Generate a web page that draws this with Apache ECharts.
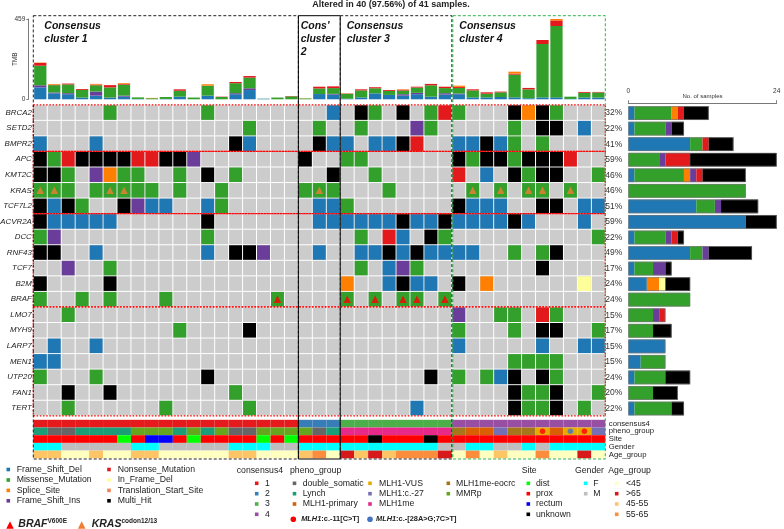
<!DOCTYPE html>
<html><head><meta charset="utf-8">
<script src="https://cdn.jsdelivr.net/npm/echarts@6/dist/echarts.min.js"></script>
<style>html,body{margin:0;padding:0;background:#fff}#c{width:784px;height:529px}</style>
</head><body><div id="c"></div>
<script>
// ---------------- DATA ----------------
const nSamples = 41;
const samples = Array.from({length: nSamples}, (_, i) => 'S' + (i + 1));
const genes = ['BRCA2','SETD2','BMPR2','APC','KMT2C','KRAS','TCF7L2','ACVR2A','DCC','RNF43','TCF7','B2M','BRAF','LMO7','MYH9','LARP7','MEN1','UTP20','FAN1','TERT'];
// sampleIndex + code (B=Frame_Shift_Del G=Missense O=Splice P=Frame_Shift_Ins R=Nonsense Y=In_Frame_Del T=Translation_Start K=Multi_Hit)
const mutRows = [
  '5G 12G 21B 23K 24G 26K 28G 29R 30G 34K 35O 36K 37G',
  '15G 20G 23G 27P 28G 34G 36K 37K 39B',
  '0B 4B 14K 15B 20K 21B 22B 24B 25B 26K 27R 30B 31B 32K 33B 34G 36G',
  '0K 1G 2R 3K 4K 5K 6K 7R 8R 9K 10K 11P 19K 22G 23G 30K 31G 32K 33K 34G 35K 36K 37K 38R',
  '0K 1K 2G 4P 5O 6G 7G 10G 12K 14G 21K 24G 30R 32B 34K 35G 36K 37K 40G',
  '0G 1G 2G 4G 5G 6G 7G 8G 10G 13G 19G 20G 21G 25G 31G 33G 35G 36G 38G',
  '0K 1B 2K 3G 6K 7P 8B 9B 12B 13G 20B 21B 22G 30K 31B 32B 33B 36K 37K 39B 40B',
  '0K 1B 2B 3B 4B 5B 12K 20B 21B 22B 23B 24B 25B 26K 27B 28B 29K 30B 31B 32B 33B 34K 35B 39B',
  '0G 1P 12G 23G 25R 26B 28K 29G 40G',
  '0K 1K 4B 12B 14K 15K 16P 20B 23B 24B 25K 26B 27K 28B 29B 30B 31B 34G 36G 37K',
  '2P 5G 23G 25B 26P 27G 36K',
  '0K 5K 22O 25B 26K 27B 28B 30K 32O 39Y',
  '0G 3G 5G 9G 17G 22G 24G 26G 27G 29G',
  '2G 30P 33G 34G 36R 37G',
  '10G 15K 30G 34G 36K 37K 40G',
  '1B 4B 30B 36B 39B 40B',
  '0B 1B 34G 35G 36G 37G',
  '0G 4G 12K 28K 30G 32G 33B 34K 36K 37G',
  '2K 5K 14G 34K 35G 36G 37K 40G',
  '2G 9G 15G 27B 34K 35G 36G 37K 39G'
];
const mutTypes  = ['Frame_Shift_Del','Missense_Mutation','Splice_Site','Frame_Shift_Ins','Nonsense_Mutation','In_Frame_Del','Translation_Start_Site','Multi_Hit'];
const mutCodes  = ['B','G','O','P','R','Y','T','K'];
const mutColors = ['#1f78b4','#33a02c','#ff7f00','#6a3d9a','#e31a1c','#ffff99','#f08356','#000000'];
const brafV600E = [17,22,24,26,27,29];
const krasCodon = [0,1,5,6,20,31,33,35,36,38];

// TMB per sample, by variant class
const tmbFSD = [68,34,29,10,21,8,15,2,0,2,15,0,21,0,29,53,3,0,0, 0,30,27, 3,11,34,25,21,29,15,27, 29,11,11,13,11,6,11,11,2,10,10];
const tmbFSI = [12,5,6,0,23,2,6,0,0,0,0,0,0,0,6,10,0,0,0, 0,0,4, 0,0,0,0,8,8,0,8, 4,0,0,0,0,0,0,0,0,0,0];
const tmbMis = [112,42,50,44,36,58,63,9,6,11,34,10,57,13,57,61,1,10,17, 5,32,33, 28,40,29,23,21,30,65,29, 32,40,21,27,130,51,305,408,13,27,29];
const tmbNon = [16,2,5,5,4,13,5,0,0,0,8,0,0,2,7,9,0,0,2, 0,10,10, 2,6,6,5,5,5,8,8, 6,6,8,4,6,8,23,32,0,5,3];
const tmbSpl = [2,4,0,0,4,0,4,0,2,0,0,0,8,0,0,0,0,0,0, 1,0,0, 1,0,0,0,2,0,0,0, 7,0,0,0,11,0,0,8,0,0,0];
const tmbMax = 459;

// annotations
const trackNames = ['consensus4','pheno_group','Site','Gender','Age_group'];
const consLevels = ['1','2','3','4'];
const consColors = ['#e41a1c','#377eb8','#4daf4a','#984ea3'];
const consensus = [0,0,0,0,0,0,0,0,0,0,0,0,0,0,0,0,0,0,0, 1,1,1, 2,2,2,2,2,2,2,2, 3,3,3,3,3,3,3,3,3,3,3];
const phenoLevels = ['double_somatic','Lynch','MLH1-primary','MLH1-VUS','MLH1:c.-27','MLH1me','MLH1me-eocrc','MMRp'];
const phenoColors = ['#666666','#1b9e77','#d95f02','#e6ab02','#7570b3','#e7298a','#a6761d','#66a61e'];
const pheno = [1,0,0,1,1,1,1,7,7,7,1,7,1,7,0,0,7,7,7, 7,0,1, 5,5,5,5,5,5,5,5, 6,2,2,4,6,6,3,2,3,3,4];
const mlh1C11 = [36,39];        // MLH1:c.-11[C>T]
const mlh1C28 = [38];           // MLH1:c.-[28A>G;7C>T]
const siteLevels = ['dist','prox','rectum','unknown'];
const siteColors = ['#00ff00','#ff0000','#0000ff','#000000'];
const site = [1,1,1,1,1,1,0,1,2,2,1,0,1,1,1,1,0,1,0, 1,1,1, 1,1,3,1,1,1,3,1, 1,1,1,1,1,1,1,1,1,1,1];
const genderLevels = ['F','M'];
const genderColors = ['#00ffff','#bebebe'];
const gender = [0,0,1,1,1,1,1,0,0,1,1,1,1,1,0,0,0,1,1, 0,0,0, 0,0,0,0,0,0,0,1, 1,0,0,1,1,0,1,0,0,0,0];
const ageLevels = ['<45','>65','45-55','55-65'];
const ageColors = ['#ffffbf','#d7191c','#fdc566','#fc8d3c'];
const age = [2,2,0,0,2,0,0,2,2,0,0,0,0,0,2,2,0,0,0, 2,3,0, 1,2,1,2,3,3,3,1, 0,3,0,2,0,0,3,0,0,1,0];
const clusterSizes = [19,3,8,11];
const clusterLabels = ['Consensus\ncluster 1', "Cons'\ncluster\n2", 'Consensus\ncluster 3', 'Consensus\ncluster 4'];
const geneGroups = [3,4,6,7]; // rows per red box

// ---------------- DERIVED ----------------
const mutData = [];
mutRows.forEach((row, g) => row.split(' ').forEach(tok => {
  const s = parseInt(tok, 10); const k = mutCodes.indexOf(tok.replace(/\d+/, ''));
  mutData.push({value: [s, g, k], itemStyle: {color: mutColors[k]}});
}));
const cellData = [];
for (let g = 0; g < genes.length; g++) for (let s = 0; s < nSamples; s++) cellData.push([s, g]);
const geneCounts = genes.map((_, g) => { const c = new Array(mutCodes.length).fill(0); mutData.forEach(d => { if (d.value[1] === g) c[d.value[2]]++; }); return c; });
const totals = geneCounts.map(c => c.reduce((a, b) => a + b, 0));
const pct = totals.map(t => Math.round(t / nSamples * 100));
const alteredSet = new Set(mutData.map(d => d.value[0]));
const nAltered = alteredSet.size;

const annoData = [];
const tracks = [[consensus, consColors], [pheno, phenoColors], [site, siteColors], [gender, genderColors], [age, ageColors]];
tracks.forEach(([arr, cols], t) => arr.forEach((v, s) => annoData.push({value: [s, t], itemStyle: {color: cols[v]}})));

// ---------------- LAYOUT ----------------
const FF = '"Liberation Sans", Arial, Helvetica, sans-serif';
const X0 = 33.3, GW = 572, CW = GW / nSamples;
const GT = 104.8, GH = 311, RH = GH / genes.length;
const AT = 419.8, AH = 38.5;

function rectItem(inset) {
  return function (params, api) {
    const p = api.coord([api.value(0), api.value(1)]);
    const sz = api.size([1, 1]);
    return {type: 'rect', shape: {x: p[0] - sz[0] / 2 + inset, y: p[1] - sz[1] / 2 + inset, width: sz[0] - 2 * inset, height: sz[1] - 2 * inset}, style: {fill: api.visual('color')}};
  };
}

const series = [];
[[tmbFSD, 0], [tmbFSI, 3], [tmbMis, 1], [tmbNon, 4], [tmbSpl, 2]].forEach(([arr, k]) => {
  series.push({type: 'bar', name: mutTypes[k], xAxisIndex: 0, yAxisIndex: 0, stack: 'tmb', data: arr, barCategoryGap: '12%', itemStyle: {color: mutColors[k]}});
});
series.push({type: 'custom', xAxisIndex: 1, yAxisIndex: 1, data: cellData, renderItem: rectItem(0.5), itemStyle: {color: '#cccccc'}, silent: true});
series.push({type: 'custom', xAxisIndex: 1, yAxisIndex: 1, data: mutData, renderItem: rectItem(0.5), silent: true});
series.push({type: 'scatter', xAxisIndex: 1, yAxisIndex: 1, symbol: 'triangle', symbolSize: 7.5, itemStyle: {color: '#ff0000'}, data: brafV600E.map(s => [s, genes.indexOf('BRAF')]), z: 5});
series.push({type: 'scatter', xAxisIndex: 1, yAxisIndex: 1, symbol: 'triangle', symbolSize: 7.5, itemStyle: {color: '#ee7d31'}, data: krasCodon.map(s => [s, genes.indexOf('KRAS')]), z: 5});
series.push({type: 'custom', xAxisIndex: 2, yAxisIndex: 2, data: annoData, renderItem: rectItem(0), silent: true});
series.push({type: 'scatter', xAxisIndex: 2, yAxisIndex: 2, symbol: 'circle', symbolSize: 5.5, itemStyle: {color: '#ff0000'}, data: mlh1C11.map(s => [s, 1]), z: 5});
series.push({type: 'scatter', xAxisIndex: 2, yAxisIndex: 2, symbol: 'circle', symbolSize: 5.5, itemStyle: {color: '#4472c4'}, data: mlh1C28.map(s => [s, 1]), z: 5});
mutCodes.forEach((c, k) => {
  series.push({type: 'bar', xAxisIndex: 3, yAxisIndex: 3, stack: 'cnt', data: geneCounts.map(r => r[k]), barCategoryGap: '12%', itemStyle: {color: mutColors[k]}});
});
series.push({type: 'bar', xAxisIndex: 3, yAxisIndex: 3, data: totals, barGap: '-100%', barCategoryGap: '12%', itemStyle: {color: 'rgba(0,0,0,0)', borderColor: '#777', borderWidth: 0.7}, z: 3});

// ---------------- GRAPHICS ----------------
const G = [];
function txt(x, y, text, o) { return {type: 'text', x: x, y: y, z: 100, style: Object.assign({text: text, fontSize: 8.7, fontFamily: FF, fill: '#222', align: 'left', verticalAlign: 'middle'}, o || {})}; }
function sq(x, y, color, s) { s = s || 3.6; return {type: 'rect', z: 100, shape: {x: x - s / 2, y: y - s / 2, width: s, height: s}, style: {fill: color}}; }
function tri(x, y, color, s) { return {type: 'polygon', z: 100, shape: {points: [[x, y - s / 2], [x + s / 2, y + s / 2], [x - s / 2, y + s / 2]]}, style: {fill: color}}; }

// title
G.push(txt(391, 5, 'Altered in ' + nAltered + ' (' + (nAltered / nSamples * 100).toFixed(2) + '%) of ' + nSamples + ' samples.', {fontWeight: 'bold', fontSize: 9, align: 'center'}));

// red dotted gene-group boxes
let r0 = 0;
geneGroups.forEach(n => {
  G.push({type: 'rect', z: 90, shape: {x: X0, y: GT + r0 * RH, width: GW, height: n * RH}, style: {fill: 'none', stroke: '#ff0000', lineWidth: 1.3, lineDash: [1.6, 1.6]}});
  r0 += n;
});
// cluster boxes and labels
let c0 = 0;
const boxStroke = ['#222', '#000', '#222', '#2db34a'];
const labelX = [44.3, 300.7, 346.7, 459.3];
clusterSizes.forEach((n, i) => {
  const x = X0 + c0 * CW, w = n * CW;
  G.push({type: 'rect', z: 91, shape: {x: x + (i === 3 ? 1 : 0), y: 15.7, width: w - (i === 3 ? 1 : 0), height: 459 - 15.7}, style: {fill: 'none', stroke: boxStroke[i], lineWidth: 1, lineDash: i === 1 ? null : [3, 2]}});
  G.push({type: 'text', z: 100, x: labelX[i], y: 19.5, style: {text: clusterLabels[i], fontSize: 10.5, fontWeight: 'bold', fontStyle: 'italic', fontFamily: FF, fill: '#111', lineHeight: 13, verticalAlign: 'top', align: 'left'}});
  c0 += n;
});

// mutation legend
const legRows = [469.5, 480, 490.4, 500.8];
mutTypes.forEach((m, k) => {
  const col = k < 4 ? 0 : 1, row = k % 4;
  const mx = col ? 109 : 8.3, tx = col ? 117.7 : 16.7;
  G.push(sq(mx, legRows[row], mutColors[k]));
  G.push(txt(tx, legRows[row], m));
});
// hotspot legend
G.push(tri(10, 525, '#ff0000', 7.5));
G.push(txt(18.3, 524, '{a|BRAF}{b|V600E}', {rich: {a: {fontSize: 10.5, fontWeight: 'bold', fontStyle: 'italic', fontFamily: FF, lineHeight: 13}, b: {fontSize: 6.5, fontWeight: 'bold', fontFamily: FF, verticalAlign: 'top'}}}));
G.push(tri(81.7, 525, '#ee7d31', 7.5));
G.push(txt(91.7, 524, '{a|KRAS}{b|codon12/13}', {rich: {a: {fontSize: 10.5, fontWeight: 'bold', fontStyle: 'italic', fontFamily: FF, lineHeight: 13}, b: {fontSize: 6.5, fontWeight: 'bold', fontFamily: FF, verticalAlign: 'top'}}}));

// annotation legends
const titleY = 470.7, itemY = [483.3, 493.7, 504, 514.3];
G.push(txt(236.7, titleY, 'consensus4'));
consLevels.forEach((l, i) => { G.push(sq(256.7, itemY[i], consColors[i])); G.push(txt(265, itemY[i], l)); });
G.push(txt(290, titleY, 'pheno_group'));
const phCols = [[294.5, 302.7], [370, 379], [448.3, 456]];
phenoLevels.forEach((l, i) => {
  const c = Math.floor(i / 3), r = i % 3;
  G.push(sq(phCols[c][0], itemY[r], phenoColors[i])); G.push(txt(phCols[c][1], itemY[r], l));
});
G.push({type: 'circle', z: 100, shape: {cx: 293.3, cy: 519.3, r: 2.8}, style: {fill: '#ff0000'}});
G.push(txt(301.2, 519.3, '{i|MLH1}{n|:c.-11[C>T]}', {rich: {i: {fontSize: 7.4, fontWeight: 'bold', fontStyle: 'italic', fontFamily: FF}, n: {fontSize: 7.4, fontWeight: 'bold', fontFamily: FF}}}));
G.push({type: 'circle', z: 100, shape: {cx: 370, cy: 519.3, r: 2.8}, style: {fill: '#4472c4'}});
G.push(txt(376, 519.3, '{i|MLH1}{n|:c.-[28A>G;7C>T]}', {rich: {i: {fontSize: 7.4, fontWeight: 'bold', fontStyle: 'italic', fontFamily: FF}, n: {fontSize: 7.4, fontWeight: 'bold', fontFamily: FF}}}));
G.push(txt(521.7, titleY, 'Site'));
siteLevels.forEach((l, i) => { G.push(sq(528.3, itemY[i], siteColors[i])); G.push(txt(536, itemY[i], l)); });
G.push(txt(575, titleY, 'Gender'));
genderLevels.forEach((l, i) => { G.push(sq(585.7, itemY[i], genderColors[i])); G.push(txt(593.3, itemY[i], l)); });
G.push(txt(608.3, titleY, 'Age_group'));
ageLevels.forEach((l, i) => { G.push(sq(616.7, itemY[i], ageColors[i])); G.push(txt(626, itemY[i], l)); });

// ---------------- OPTION ----------------
const hiddenCat = {type: 'category', data: samples, show: false};
const option = {
  animation: false,
  backgroundColor: '#ffffff',
  textStyle: {fontFamily: FF},
  grid: [
    {left: X0, top: 19, width: GW, height: 80.3, outerBoundsMode: 'none'},
    {left: X0, top: GT, width: GW, height: GH, outerBoundsMode: 'none'},
    {left: X0, top: AT, width: GW, height: AH, outerBoundsMode: 'none'},
    {left: 628.3, top: GT + 0.5, width: 148.4, height: GH, outerBoundsMode: 'none'}
  ],
  xAxis: [
    Object.assign({gridIndex: 0}, hiddenCat),
    Object.assign({gridIndex: 1}, hiddenCat),
    Object.assign({gridIndex: 2}, hiddenCat),
    {gridIndex: 3, type: 'value', min: 0, max: 24, interval: 24, position: 'top', offset: 2.5,
     name: 'No. of samples', nameLocation: 'middle', nameGap: 3.5, nameMoveOverlap: false, nameTextStyle: {fontSize: 6, color: '#333', fontFamily: FF},
     axisLine: {show: true, lineStyle: {color: '#555', width: 0.8}}, axisTick: {show: true, length: 2.5, lineStyle: {color: '#555', width: 0.8}},
     axisLabel: {fontSize: 6.5, color: '#333', margin: 8, fontFamily: FF}, splitLine: {show: false}}
  ],
  yAxis: [
    {gridIndex: 0, type: 'value', min: 0, max: tmbMax, interval: tmbMax, offset: 5,
     name: 'TMB', nameLocation: 'middle', nameRotate: 90, nameGap: 10, nameMoveOverlap: false, nameTextStyle: {fontSize: 6.5, color: '#333', fontFamily: FF},
     axisLine: {show: true, lineStyle: {color: '#444', width: 0.7}}, axisTick: {show: true, length: 2, lineStyle: {color: '#444', width: 0.7}},
     axisLabel: {fontSize: 6.5, color: '#333', margin: 3, fontFamily: FF}, splitLine: {show: false}},
    {gridIndex: 1, type: 'category', data: genes, inverse: true, axisLine: {show: false}, axisTick: {show: false},
     axisLabel: {interval: 0, fontStyle: 'italic', fontSize: 7.9, color: '#222', margin: 1.5, fontFamily: FF}},
    {gridIndex: 2, type: 'category', data: trackNames, inverse: true, position: 'right', axisLine: {show: false}, axisTick: {show: false},
     axisLabel: {interval: 0, fontSize: 7.7, color: '#222', margin: 3.5, fontFamily: FF}},
    {gridIndex: 3, type: 'category', data: genes, inverse: true, axisLine: {show: false}, axisTick: {show: false},
     axisLabel: {interval: 0, formatter: (v, i) => pct[i] + '%', fontSize: 8.5, color: '#333', margin: 6, fontFamily: FF}}
  ],
  series: series,
  graphic: {elements: G}
};
const chart = echarts.init(document.getElementById('c'), null, {renderer: 'canvas'});
chart.setOption(option);
</script>
</body></html>
